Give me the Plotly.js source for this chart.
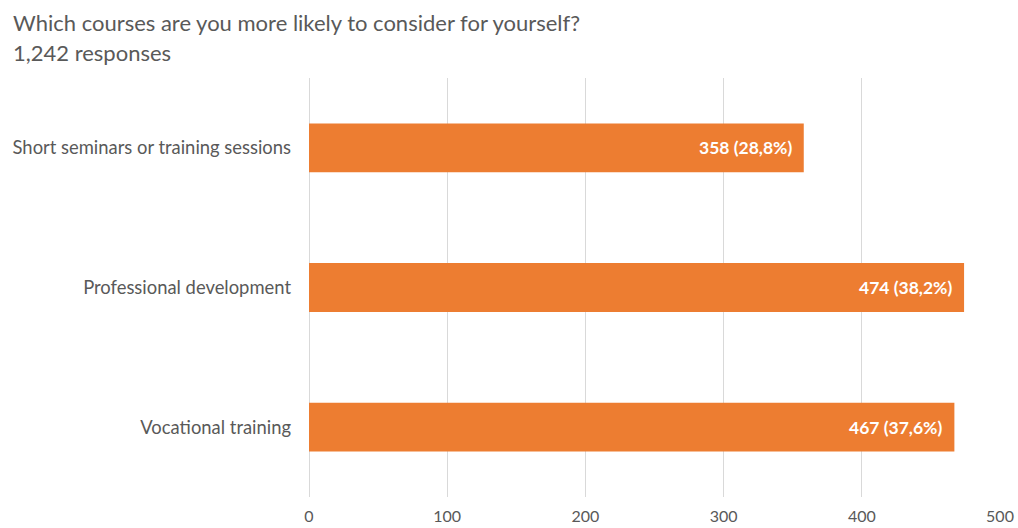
<!DOCTYPE html>
<html>
<head>
<meta charset="utf-8">
<script src="https://cdn.plot.ly/plotly-3.0.1.min.js"></script>
<style>html,body{margin:0;padding:0;background:#fff;}#chart{width:1018px;height:528px;}</style>
</head>
<body>
<div id="chart"></div>
<script>
const titleLines = ["Which courses are you more likely to consider for yourself?", "1,242 responses"];
const categories = ["Short seminars or training sessions", "Professional development", "Vocational training"];
const values = [358, 474, 467];
const labels = ["358 (28,8%)", "474 (38,2%)", "467 (37,6%)"];
const xTicks = [0, 100, 200, 300, 400, 500];

const font = "Lato, 'Open Sans', sans-serif";

const trace = {
  type: "bar",
  orientation: "h",
  y: categories,
  x: values,
  marker: {color: "#ED7D31"},
  hoverinfo: "none"
};

const annotations = categories.map((c, i) => ({
  x: values[i], y: c, xref: "x", yref: "y",
  text: "<b>" + labels[i] + "</b>",
  showarrow: false, xanchor: "right", xshift: -10,
  font: {family: font, size: 17.5, color: "#ffffff"}
}));

// title lines as paper-anchored annotations (positioned in pixels via shifts)
titleLines.forEach((t, i) => {
  annotations.push({
    text: t, xref: "paper", yref: "paper", x: 0, y: 1,
    xanchor: "left", yanchor: "middle", showarrow: false,
    xshift: -298, yshift: 56 - 30 * i,
    font: {family: font, size: 22, color: "#595959"}
  });
});

const layout = {
  width: 1018, height: 528,
  margin: {l: 309, r: 18, t: 78, b: 31},
  paper_bgcolor: "#ffffff", plot_bgcolor: "#ffffff",
  showlegend: false,
  bargap: 0.65,
  xaxis: {
    range: [0, 500], tickvals: xTicks, ticktext: xTicks.map(String),
    showgrid: true, gridcolor: "#d9d9d9", gridwidth: 1,
    zeroline: true, zerolinecolor: "#d9d9d9", zerolinewidth: 1,
    showline: false, ticks: "", ticklabelstandoff: 8,
    tickfont: {family: font, size: 16, color: "#595959"}, fixedrange: true
  },
  yaxis: {
    autorange: "reversed", showgrid: false, zeroline: false, showline: false,
    ticks: "", ticklabelstandoff: 17,
    tickfont: {family: font, size: 18.4, color: "#595959"}, fixedrange: true
  },
  annotations: annotations
};

Plotly.newPlot("chart", [trace], layout, {displayModeBar: false, staticPlot: true});
</script>
</body>
</html>
